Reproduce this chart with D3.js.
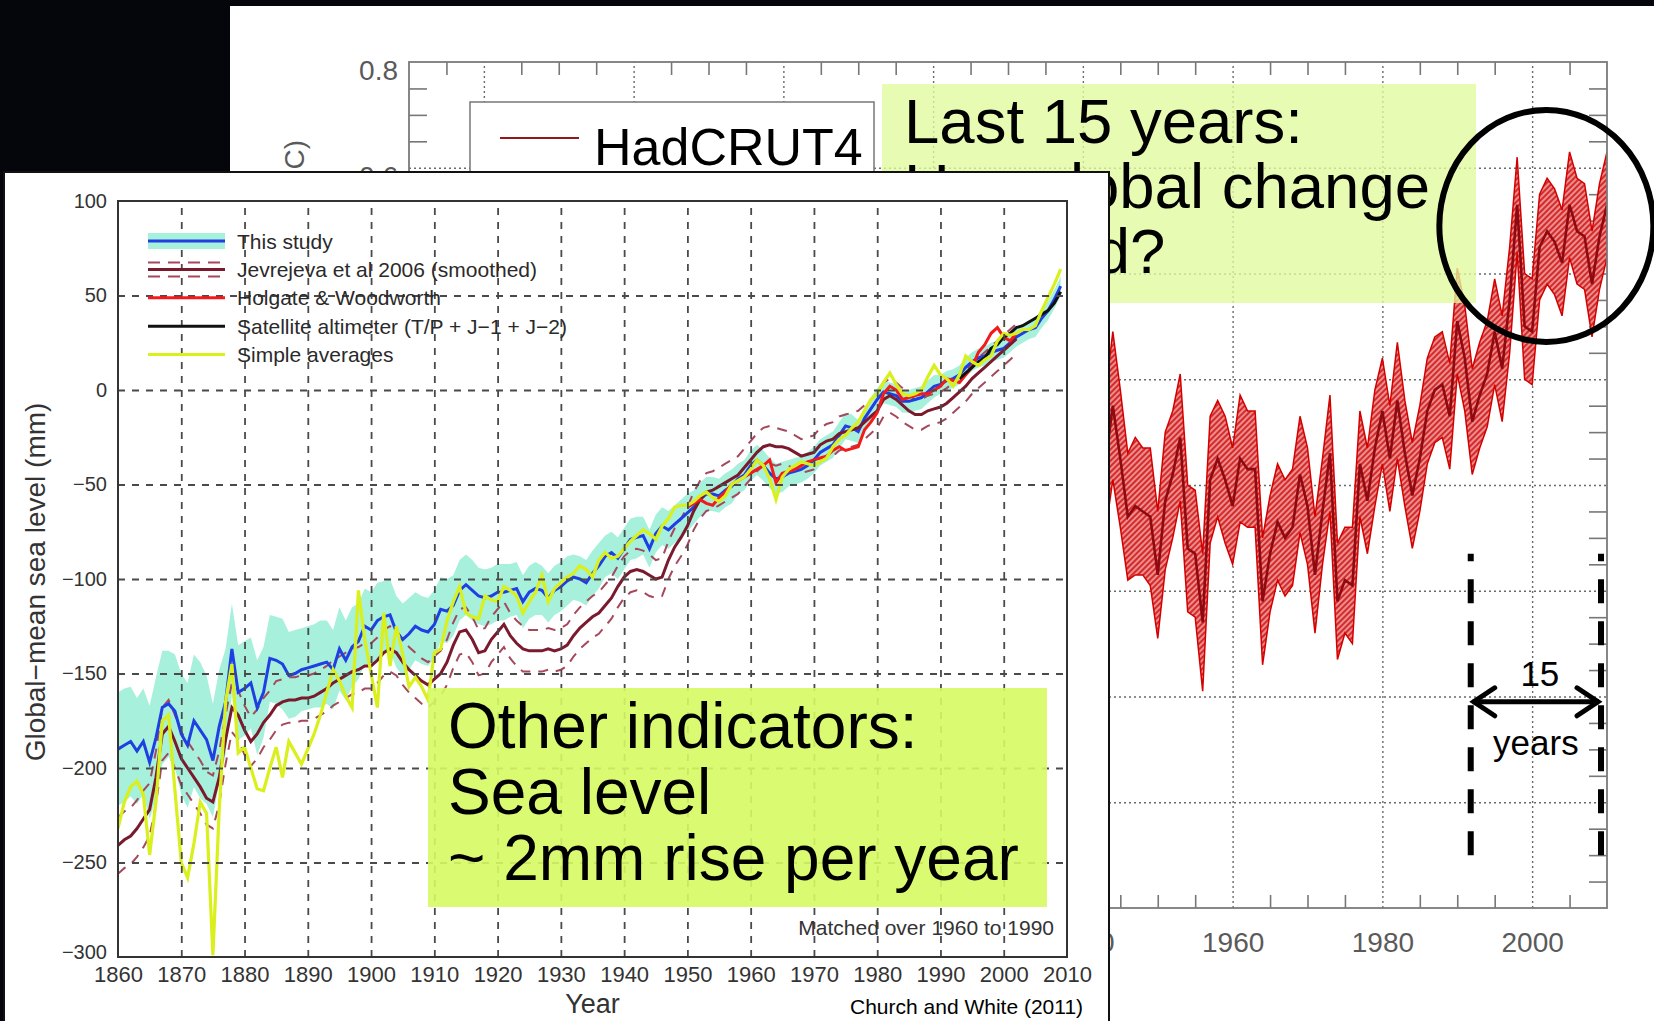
<!DOCTYPE html>
<html>
<head>
<meta charset="utf-8">
<script src="https://cdn.jsdelivr.net/npm/d3@7"></script>
<style>
  body { margin: 0; background: #04060c; }
  svg { display: block; }
</style>
</head>
<body>
<svg id="chart"></svg>
<script>
// ---- HadCRUT4 (back chart) ----
var tempStart = 1940;
var tempValues = [0.05, 0.08, 0.02, 0.04, 0.15, 0.05, -0.06, -0.04, -0.05, -0.06,
  -0.17, -0.03, 0.02, 0.09, -0.12, -0.13, -0.26, 0.01, 0.05, 0.01,
  -0.04, 0.05, 0.03, 0.03, -0.22, -0.13, -0.07, -0.10, -0.08, 0.02,
  -0.04, -0.17, -0.05, 0.06, -0.22, -0.18, -0.19, 0.04, -0.03, 0.07,
  0.14, 0.05, 0.16, 0.06, -0.02, 0.05, 0.14, 0.18, 0.19, 0.13,
  0.31, 0.24, 0.12, 0.17, 0.21, 0.29, 0.22, 0.35, 0.53, 0.30,
  0.29, 0.45, 0.48, 0.46, 0.42, 0.53, 0.48, 0.47, 0.38, 0.47, 0.53];
var tempErr = [0.13, 0.13, 0.14, 0.13, 0.14, 0.13, 0.12, 0.13, 0.12, 0.13,
  0.12, 0.13, 0.12, 0.12, 0.12, 0.12, 0.13, 0.12, 0.11, 0.12,
  0.11, 0.12, 0.11, 0.11, 0.12, 0.11, 0.11, 0.11, 0.11, 0.11,
  0.11, 0.11, 0.10, 0.11, 0.11, 0.10, 0.11, 0.10, 0.10, 0.11,
  0.10, 0.10, 0.11, 0.10, 0.10, 0.10, 0.10, 0.10, 0.10, 0.10,
  0.10, 0.10, 0.10, 0.10, 0.10, 0.10, 0.10, 0.10, 0.09, 0.10,
  0.10, 0.10, 0.10, 0.10, 0.10, 0.10, 0.10, 0.10, 0.10, 0.10, 0.10];
var tempGridYears = [1860, 1880, 1900, 1920, 1940, 1960, 1980, 2000];
var tempMinorYears = [1855, 1865, 1870, 1875, 1885, 1890, 1895, 1905, 1910, 1915, 1925, 1930, 1935,
  1945, 1950, 1955, 1965, 1970, 1975, 1985, 1990, 1995, 2005];
var tempLabelVals = [-0.8, -0.6, -0.4, -0.2, 0, 0.2, 0.4, 0.6, 0.8];
var tempGridVals = [-0.6, -0.4, -0.2, 0, 0.2, 0.4, 0.6];
var tempMinorVals = [-0.75, -0.7, -0.65, -0.55, -0.5, -0.45, -0.35, -0.3, -0.25, -0.15, -0.1, -0.05,
  0.05, 0.1, 0.15, 0.25, 0.3, 0.35, 0.45, 0.5, 0.55, 0.65, 0.7, 0.75];
var spanYears = [1991.8, 2009.2];

// ---- Church and White (front chart) ----
var seaStart = 1860;
var studyValues = [-190, -188, -186, -191, -186, -197, -184, -168, -166, -170,
  -182, -188, -175, -180, -185, -196, -178, -165, -137, -160,
  -158, -155, -168, -160, -142, -143, -145, -151, -150, -148,
  -147, -146, -145, -144, -148, -137, -143, -136, -133, -125,
  -127, -122, -120, -119, -128, -132, -129, -125, -127, -128,
  -124, -116, -117, -114, -106, -103, -106, -109, -110, -109,
  -107, -107, -106, -105, -112, -107, -105, -106, -110, -106,
  -104, -101, -99, -100, -102, -97, -93, -88, -86, -89,
  -84, -79, -78, -77, -84, -76, -72, -74, -71, -68,
  -65, -62, -58, -55, -55, -56, -53, -51, -47, -45,
  -40, -37, -40, -44, -47, -46, -44, -43, -42, -40,
  -37, -33, -31, -29, -24, -19, -20, -22, -15, -10,
  -5, -1, -2, -3, -6, -6, -5, -4, -1, 2,
  3, 5, 6, 8, 12, 15, 17, 18, 20, 21,
  22, 25, 28, 30, 32, 33, 38, 42, 48, 55];
var studyErr = [30, 30, 29, 28, 28, 30, 32, 30, 28, 30,
  32, 33, 35, 36, 34, 30, 30, 28, 24, 25,
  25, 24, 25, 24, 23, 23, 24, 23, 23, 22,
  22, 22, 23, 22, 21, 22, 21, 21, 20, 20,
  20, 20, 19, 19, 19, 19, 19, 18, 18, 18,
  18, 17, 17, 16, 16, 16, 16, 15, 15, 15,
  15, 15, 14, 14, 14, 14, 14, 13, 13, 13,
  13, 13, 12, 12, 12, 12, 12, 11, 11, 11,
  11, 11, 11, 10, 10, 10, 10, 10, 10, 10,
  10, 9, 9, 9, 9, 9, 9, 9, 8, 8,
  8, 8, 8, 8, 8, 8, 7, 7, 7, 7,
  7, 7, 7, 7, 7, 7, 7, 6, 6, 6,
  6, 6, 6, 6, 6, 6, 6, 6, 6, 6,
  5, 5, 5, 5, 5, 5, 5, 5, 5, 5,
  5, 5, 5, 5, 5, 5, 5, 5, 5, 5];
var jevValues = [-241, -238, -236, -232, -227, -222, -205, -182, -178, -186,
  -195, -200, -205, -210, -216, -218, -205, -185, -168, -172,
  -180, -186, -182, -176, -172, -167, -165, -164, -164, -163,
  -163, -162, -160, -158, -155, -153, -151, -149, -148, -146,
  -146, -143, -139, -137, -139, -144, -148, -151, -154, -156,
  -153, -150, -144, -135, -128, -127, -132, -139, -138, -132,
  -128, -124, -130, -134, -137, -138, -138, -138, -137, -138,
  -137, -135, -130, -126, -123, -120, -118, -114, -110, -104,
  -99, -96, -95, -96, -98, -100, -99, -90, -83, -78,
  -72, -64, -58, -54, -53, -51, -49, -47, -45, -41,
  -37, -33, -30, -29, -30, -30, -31, -33, -35, -34,
  -33, -29, -27, -26, -23, -22, -21, -20, -17, -14,
  -11, -5, -3, -5, -8, -11, -13, -13, -11, -10,
  -9, -7, -4, -1, 2, 6, 9, 12, 15, 18,
  21, 24, 27];
var jevErr = [15, 15, 15, 15, 15, 14, 14, 14, 14, 14,
  14, 14, 14, 14, 14, 14, 14, 13, 13, 13,
  13, 13, 13, 13, 13, 13, 12, 12, 12, 12,
  12, 12, 12, 12, 12, 12, 12, 12, 12, 12,
  12, 12, 12, 12, 12, 12, 12, 12, 12, 12,
  12, 12, 12, 12, 12, 12, 12, 12, 12, 12,
  12, 12, 12, 12, 12, 11, 11, 11, 11, 11,
  11, 11, 11, 11, 11, 11, 11, 11, 11, 11,
  11, 11, 11, 11, 11, 10, 10, 10, 10, 10,
  10, 10, 10, 10, 10, 10, 10, 10, 10, 10,
  10, 10, 10, 10, 10, 9, 9, 9, 9, 9,
  9, 9, 9, 9, 9, 9, 9, 9, 9, 9,
  9, 9, 9, 9, 9, 8, 8, 8, 8, 8,
  8, 8, 8, 8, 8, 8, 8, 8, 8, 8,
  8, 8, 8];
var holgateStart = 1950;
var holgateValues = [-62, -60, -58, -60, -61, -57, -54, -50, -48, -46,
  -44, -42, -40, -37, -49, -44, -43, -42, -40, -38,
  -37, -36, -35, -32, -30, -32, -31, -30, -21, -17,
  -12, -2, 2, 0, -5, -4, -3, -2, -2, 0,
  2, 6, 5, 4, 8, 12, 20, 24, 30, 33,
  28, 26, 30];
var altimStart = 1993;
var altimValues = [6, 9, 12, 15, 17, 22, 24, 28, 30, 33, 34, 36, 38, 40, 42, 46, 52];
var simpleValues = [-232, -218, -210, -207, -214, -246, -218, -175, -172, -212,
  -250, -258, -240, -218, -224, -299, -222, -165, -145, -192,
  -189, -200, -211, -212, -200, -189, -205, -186, -192, -198,
  -190, -182, -172, -160, -148, -154, -162, -168, -106, -132,
  -150, -168, -118, -146, -125, -140, -157, -152, -157, -164,
  -139, -137, -122, -112, -104, -118, -120, -121, -109, -111,
  -112, -104, -106, -109, -118, -112, -107, -98, -112, -105,
  -102, -99, -97, -93, -95, -99, -90, -86, -89, -88,
  -84, -80, -77, -74, -76, -79, -72, -68, -62, -61,
  -61, -59, -56, -54, -57, -59, -56, -50, -48, -46,
  -42, -37, -40, -47, -58, -46, -42, -40, -38, -39,
  -40, -38, -36, -30, -26, -24, -20, -17, -11, -5,
  -2, 4, 9, 3, -2, -3, -2, 0, 7, 13,
  8, 6, 2, 8, 18, 15, 13, 16, 18, 26,
  30, 29, 30, 32, 32, 34, 42, 49, 56, 64];
var seaLabelYears = [1860, 1870, 1880, 1890, 1900, 1910, 1920, 1930, 1940, 1950, 1960, 1970, 1980, 1990, 2000, 2010];
var seaGridYears = [1870, 1880, 1890, 1900, 1910, 1920, 1930, 1940, 1950, 1960, 1970, 1980, 1990, 2000];
var seaLabelVals = [-300, -250, -200, -150, -100, -50, 0, 50, 100];
var seaGridVals = [-250, -200, -150, -100, -50, 0, 50];
var legendNames = ['This study', 'Jevrejeva et al 2006 (smoothed)', 'Holgate & Woodworth',
  'Satellite altimeter (T/P + J\u22121 + J\u22122)', 'Simple averages'];

var W = 1654, H = 1021;
var font = '"Liberation Sans", Arial, Helvetica, sans-serif';
// the front chart covers this box, labels of the back chart under it are not drawn
var front = { x0: 4, y0: 172, x1: 1109 };

var svg = d3.select('#chart').attr('width', W).attr('height', H).style('font-family', font);
var defs = svg.append('defs');

svg.append('rect').attr('width', W).attr('height', H).attr('fill', '#04060c');

// ================= back chart =================
var back = svg.append('g');
back.append('rect').attr('x', 230).attr('y', 6).attr('width', W - 230).attr('height', H - 6).attr('fill', '#fff');

var tx = d3.scaleLinear().domain([1850, 2010]).range([409, 1607]);
var ty = d3.scaleLinear().domain([-0.8, 0.8]).range([908, 62]);
var tH = ty(-0.8) - ty(0.8);
var tWd = tx(2010) - tx(1850);

function styleGrid(g) {
  g.select('.domain').remove();
  g.selectAll('line').attr('stroke', '#6a6a6a').attr('stroke-width', 1.4).attr('stroke-dasharray', '2,3');
}
function styleTick(g) {
  g.select('.domain').remove();
  g.selectAll('line').attr('stroke', '#777').attr('stroke-width', 1.6);
}

back.append('g').attr('transform', 'translate(0,' + ty(-0.8) + ')')
  .call(d3.axisBottom(tx).tickValues(tempGridYears).tickSize(-tH).tickFormat(''))
  .call(styleGrid);
back.append('g').attr('transform', 'translate(' + tx(1850) + ',0)')
  .call(d3.axisLeft(ty).tickValues(tempGridVals).tickSize(-tWd).tickFormat(''))
  .call(styleGrid);

back.append('g').attr('transform', 'translate(0,' + ty(-0.8) + ')')
  .call(d3.axisBottom(tx).tickValues(tempMinorYears).tickSize(-13).tickFormat('')).call(styleTick);
back.append('g').attr('transform', 'translate(0,' + ty(0.8) + ')')
  .call(d3.axisTop(tx).tickValues(tempMinorYears).tickSize(-13).tickFormat('')).call(styleTick);
back.append('g').attr('transform', 'translate(' + tx(1850) + ',0)')
  .call(d3.axisLeft(ty).tickValues(tempMinorVals).tickSize(-18).tickFormat('')).call(styleTick);
back.append('g').attr('transform', 'translate(' + tx(2010) + ',0)')
  .call(d3.axisRight(ty).tickValues(tempMinorVals).tickSize(-18).tickFormat('')).call(styleTick);

// tick labels (only those not hidden by the front chart)
var shownYears = tempGridYears.filter(function (d) { return tx(d) + 34 > front.x1; });
var shownVals = tempLabelVals.filter(function (d) { return ty(d) < front.y0; });
back.append('g').attr('transform', 'translate(0,' + ty(-0.8) + ')')
  .call(d3.axisBottom(tx).tickValues(shownYears).tickSize(0).tickPadding(24).tickFormat(d3.format('d')))
  .call(function (g) {
    g.select('.domain').remove();
    g.selectAll('text').attr('font-size', 28).attr('font-family', font).attr('fill', '#5a5a5a');
  });
back.append('g').attr('transform', 'translate(' + tx(1850) + ',0)')
  .call(d3.axisLeft(ty).tickValues(shownVals).tickSize(0).tickPadding(11).tickFormat(d3.format('.1f')))
  .call(function (g) {
    g.select('.domain').remove();
    g.selectAll('text').attr('font-size', 28).attr('font-family', font).attr('fill', '#5a5a5a').attr('dy', '0.64em');
  });
back.append('text')
  .attr('transform', 'translate(294,140) rotate(-90)')
  .attr('text-anchor', 'end').attr('dominant-baseline', 'central')
  .attr('font-size', 28).attr('fill', '#5a5a5a')
  .text('Temperature anomaly (\u00B0C)');

// hatched uncertainty band
var hatch = defs.append('pattern').attr('id', 'hatch').attr('patternUnits', 'userSpaceOnUse')
  .attr('width', 4).attr('height', 4).attr('patternTransform', 'rotate(-45)');
hatch.append('rect').attr('width', 4).attr('height', 4).attr('fill', '#d62a2a');
hatch.append('line').attr('x1', 0).attr('x2', 4).attr('y1', 1).attr('y2', 1)
  .attr('stroke', '#f7d0d0').attr('stroke-width', 1.2);

defs.append('clipPath').attr('id', 'tclip').append('rect')
  .attr('x', tx(1850)).attr('y', ty(0.8)).attr('width', tWd).attr('height', tH);

var tempData = tempValues.map(function (v, i) {
  return { year: tempStart + i, v: v, e: tempErr[i] };
});
var tPlot = back.append('g').attr('clip-path', 'url(#tclip)');
tPlot.append('path').datum(tempData)
  .attr('d', d3.area()
    .x(function (d) { return tx(d.year); })
    .y0(function (d) { return ty(d.v - d.e); })
    .y1(function (d) { return ty(d.v + d.e); }))
  .attr('fill', 'url(#hatch)').attr('stroke', '#d40000').attr('stroke-width', 1.5);
tPlot.append('path').datum(tempData)
  .attr('d', d3.line()
    .x(function (d) { return tx(d.year); })
    .y(function (d) { return ty(d.v); }))
  .attr('fill', 'none').attr('stroke', '#8e0a10').attr('stroke-width', 2.6);

// frame
back.append('rect').attr('x', tx(1850)).attr('y', ty(0.8)).attr('width', tWd).attr('height', tH)
  .attr('fill', 'none').attr('stroke', '#7a7a7a').attr('stroke-width', 1.8);

// legend box
back.append('rect').attr('x', 470).attr('y', 102).attr('width', 404).attr('height', 140)
  .attr('fill', '#fff').attr('stroke', '#777').attr('stroke-width', 1.5);
back.append('line').attr('x1', 500).attr('x2', 579).attr('y1', 138).attr('y2', 138)
  .attr('stroke', '#8e1a1a').attr('stroke-width', 2.2);
back.append('text').attr('x', 594).attr('y', 165).attr('font-size', 52).attr('fill', '#000').text('HadCRUT4');

// "Last 15 years" box
back.append('rect').attr('x', 882).attr('y', 84).attr('width', 594).attr('height', 219)
  .attr('fill', '#e2fa9e').attr('fill-opacity', 0.78);
back.selectAll('.q').data(['Last 15 years:', 'Has global change', 'stopped?']).enter()
  .append('text').attr('class', 'q')
  .attr('x', 904).attr('y', function (d, i) { return 143 + i * 65; })
  .attr('font-size', 63.5).attr('fill', '#000')
  .text(function (d) { return d; });

// circle round the last years
back.append('ellipse').attr('cx', tx(2001.9)).attr('cy', ty(0.49)).attr('rx', 107).attr('ry', 116)
  .attr('fill', 'none').attr('stroke', '#000').attr('stroke-width', 6);

// 15 year span
back.selectAll('.span').data(spanYears).enter().append('line').attr('class', 'span')
  .attr('x1', function (d) { return tx(d); }).attr('x2', function (d) { return tx(d); })
  .attr('y1', ty(-0.70)).attr('y2', ty(-0.13))
  .attr('stroke', '#000').attr('stroke-width', 6).attr('stroke-dasharray', '24,18');
var ay = ty(-0.41), ax1 = tx(spanYears[0]), ax2 = tx(spanYears[1]);
back.append('line').attr('x1', ax1 + 2).attr('x2', ax2 - 2).attr('y1', ay).attr('y2', ay)
  .attr('stroke', '#000').attr('stroke-width', 5);
back.append('path')
  .attr('d', 'M' + (ax1 + 24) + ',' + (ay - 14) + 'L' + (ax1 + 3) + ',' + ay + 'L' + (ax1 + 24) + ',' + (ay + 14) +
    'M' + (ax2 - 24) + ',' + (ay - 14) + 'L' + (ax2 - 3) + ',' + ay + 'L' + (ax2 - 24) + ',' + (ay + 14))
  .attr('fill', 'none').attr('stroke', '#000').attr('stroke-width', 5).attr('stroke-linecap', 'round');
back.append('text').attr('x', (ax1 + ax2) / 2 + 4).attr('y', ay - 16).attr('text-anchor', 'middle')
  .attr('font-size', 35).attr('fill', '#000').text('15');
back.append('text').attr('x', (ax1 + ax2) / 2).attr('y', ay + 53).attr('text-anchor', 'middle')
  .attr('font-size', 35).attr('fill', '#000').text('years');

// ================= front chart =================
var sea = svg.append('g');
sea.append('rect').attr('x', front.x0).attr('y', front.y0).attr('width', front.x1 - front.x0).attr('height', H)
  .attr('fill', '#fff').attr('stroke', '#111').attr('stroke-width', 2);

var sx = d3.scaleLinear().domain([1860, 2010]).range([118, 1067]);
var sy = d3.scaleLinear().domain([-300, 100]).range([957, 201]);
var sH = sy(-300) - sy(100);
var sW = sx(2010) - sx(1860);

defs.append('clipPath').attr('id', 'sclip').append('rect')
  .attr('x', sx(1860)).attr('y', sy(100)).attr('width', sW).attr('height', sH);

function series(values, start) {
  return values.map(function (v, i) { return { year: start + i, v: v }; });
}
var seaLine = d3.line()
  .x(function (d) { return sx(d.year); })
  .y(function (d) { return sy(d.v); });

var sPlot = sea.append('g').attr('clip-path', 'url(#sclip)');

var studyData = studyValues.map(function (v, i) { return { year: seaStart + i, v: v, e: studyErr[i] }; });
sPlot.append('path').datum(studyData)
  .attr('d', d3.area()
    .x(function (d) { return sx(d.year); })
    .y0(function (d) { return sy(d.v - d.e); })
    .y1(function (d) { return sy(d.v + d.e); }))
  .attr('fill', '#a6f0dc');

// dashed grid
function styleSeaGrid(g) {
  g.select('.domain').remove();
  g.selectAll('line').attr('stroke', '#4a4a4a').attr('stroke-width', 1.8).attr('stroke-dasharray', '7,7');
}
sea.append('g').attr('transform', 'translate(0,' + sy(-300) + ')')
  .call(d3.axisBottom(sx).tickValues(seaGridYears).tickSize(-sH).tickFormat(''))
  .call(styleSeaGrid);
sea.append('g').attr('transform', 'translate(' + sx(1860) + ',0)')
  .call(d3.axisLeft(sy).tickValues(seaGridVals).tickSize(-sW).tickFormat(''))
  .call(styleSeaGrid);

var jevData = jevValues.map(function (v, i) { return { year: seaStart + i, v: v, e: jevErr[i] }; });
[1, -1].forEach(function (s) {
  sPlot.append('path').datum(jevData)
    .attr('d', d3.line()
      .x(function (d) { return sx(d.year); })
      .y(function (d) { return sy(d.v + s * d.e); }))
    .attr('fill', 'none').attr('stroke', '#a5485c').attr('stroke-width', 2).attr('stroke-dasharray', '10,8');
});

sPlot.append('path').datum(series(studyValues, seaStart)).attr('d', seaLine)
  .attr('fill', 'none').attr('stroke', '#1f3fe2').attr('stroke-width', 3);
sPlot.append('path').datum(jevData).attr('d', seaLine)
  .attr('fill', 'none').attr('stroke', '#7a1a2c').attr('stroke-width', 3);
sPlot.append('path').datum(series(holgateValues, holgateStart)).attr('d', seaLine)
  .attr('fill', 'none').attr('stroke', '#f41a1a').attr('stroke-width', 3);
sPlot.append('path').datum(series(altimValues, altimStart)).attr('d', seaLine)
  .attr('fill', 'none').attr('stroke', '#111').attr('stroke-width', 3);
sPlot.append('path').datum(series(simpleValues, seaStart)).attr('d', seaLine)
  .attr('fill', 'none').attr('stroke', '#d9f01c').attr('stroke-width', 3.2);

// frame
sea.append('rect').attr('x', sx(1860)).attr('y', sy(100)).attr('width', sW).attr('height', sH)
  .attr('fill', 'none').attr('stroke', '#333').attr('stroke-width', 2);

// axes labels
sea.append('g').attr('transform', 'translate(0,' + sy(-300) + ')')
  .call(d3.axisBottom(sx).tickValues(seaLabelYears).tickSize(0).tickPadding(9).tickFormat(d3.format('d')))
  .call(function (g) {
    g.select('.domain').remove();
    g.selectAll('text').attr('font-size', 22).attr('font-family', font).attr('fill', '#333');
  });
sea.append('g').attr('transform', 'translate(' + sx(1860) + ',0)')
  .call(d3.axisLeft(sy).tickValues(seaLabelVals).tickSize(0).tickPadding(11))
  .call(function (g) {
    g.select('.domain').remove();
    g.selectAll('text').attr('font-size', 20).attr('font-family', font).attr('fill', '#333')
      .attr('dy', function (d) { return d === -300 ? '0.07em' : '0.32em'; });
  });
sea.append('text').attr('x', (sx(1860) + sx(2010)) / 2).attr('y', 1013).attr('text-anchor', 'middle')
  .attr('font-size', 27).attr('fill', '#333').text('Year');
sea.append('text').attr('transform', 'translate(35,582) rotate(-90)')
  .attr('text-anchor', 'middle').attr('dominant-baseline', 'central')
  .attr('font-size', 28).attr('fill', '#333').text('Global\u2212mean sea level (mm)');

// legend
var legY = function (i) { return 241 + i * 28.4; };
var lx1 = 148, lx2 = 225;
sea.append('rect').attr('x', lx1).attr('y', legY(0) - 8).attr('width', lx2 - lx1).attr('height', 16).attr('fill', '#a6f0dc');
sea.append('line').attr('x1', lx1).attr('x2', lx2).attr('y1', legY(0)).attr('y2', legY(0))
  .attr('stroke', '#1f3fe2').attr('stroke-width', 3);
[-7, 7].forEach(function (o) {
  sea.append('line').attr('x1', lx1).attr('x2', lx2).attr('y1', legY(1) + o).attr('y2', legY(1) + o)
    .attr('stroke', '#a5485c').attr('stroke-width', 2).attr('stroke-dasharray', '12,8');
});
sea.append('line').attr('x1', lx1).attr('x2', lx2).attr('y1', legY(1)).attr('y2', legY(1))
  .attr('stroke', '#7a1a2c').attr('stroke-width', 3);
sea.append('line').attr('x1', lx1).attr('x2', lx2).attr('y1', legY(2)).attr('y2', legY(2))
  .attr('stroke', '#f41a1a').attr('stroke-width', 3);
sea.append('line').attr('x1', lx1).attr('x2', lx2).attr('y1', legY(3)).attr('y2', legY(3))
  .attr('stroke', '#111').attr('stroke-width', 3);
sea.append('line').attr('x1', lx1).attr('x2', lx2).attr('y1', legY(4)).attr('y2', legY(4))
  .attr('stroke', '#d9f01c').attr('stroke-width', 3);
sea.selectAll('.leg').data(legendNames).enter().append('text').attr('class', 'leg')
  .attr('x', 237).attr('y', function (d, i) { return legY(i); })
  .attr('dominant-baseline', 'central').attr('font-size', 21).attr('fill', '#2a2a2a')
  .text(function (d) { return d; });

sea.append('text').attr('x', 1054).attr('y', 935).attr('text-anchor', 'end')
  .attr('font-size', 21).attr('fill', '#333').text('Matched over 1960 to 1990');
sea.append('text').attr('x', 850).attr('y', 1014)
  .attr('font-size', 21).attr('fill', '#000').text('Church and White (2011)');

// "Other indicators" box
sea.append('rect').attr('x', 428).attr('y', 688).attr('width', 619).attr('height', 219)
  .attr('fill', '#d6fb62').attr('fill-opacity', 0.9);
sea.selectAll('.oi').data(['Other indicators:', 'Sea level', '~ 2mm rise per year']).enter()
  .append('text').attr('class', 'oi')
  .attr('x', 448).attr('y', function (d, i) { return 748 + i * 66; })
  .attr('font-size', 64).attr('fill', '#000')
  .text(function (d) { return d; });
</script>
</body>
</html>
